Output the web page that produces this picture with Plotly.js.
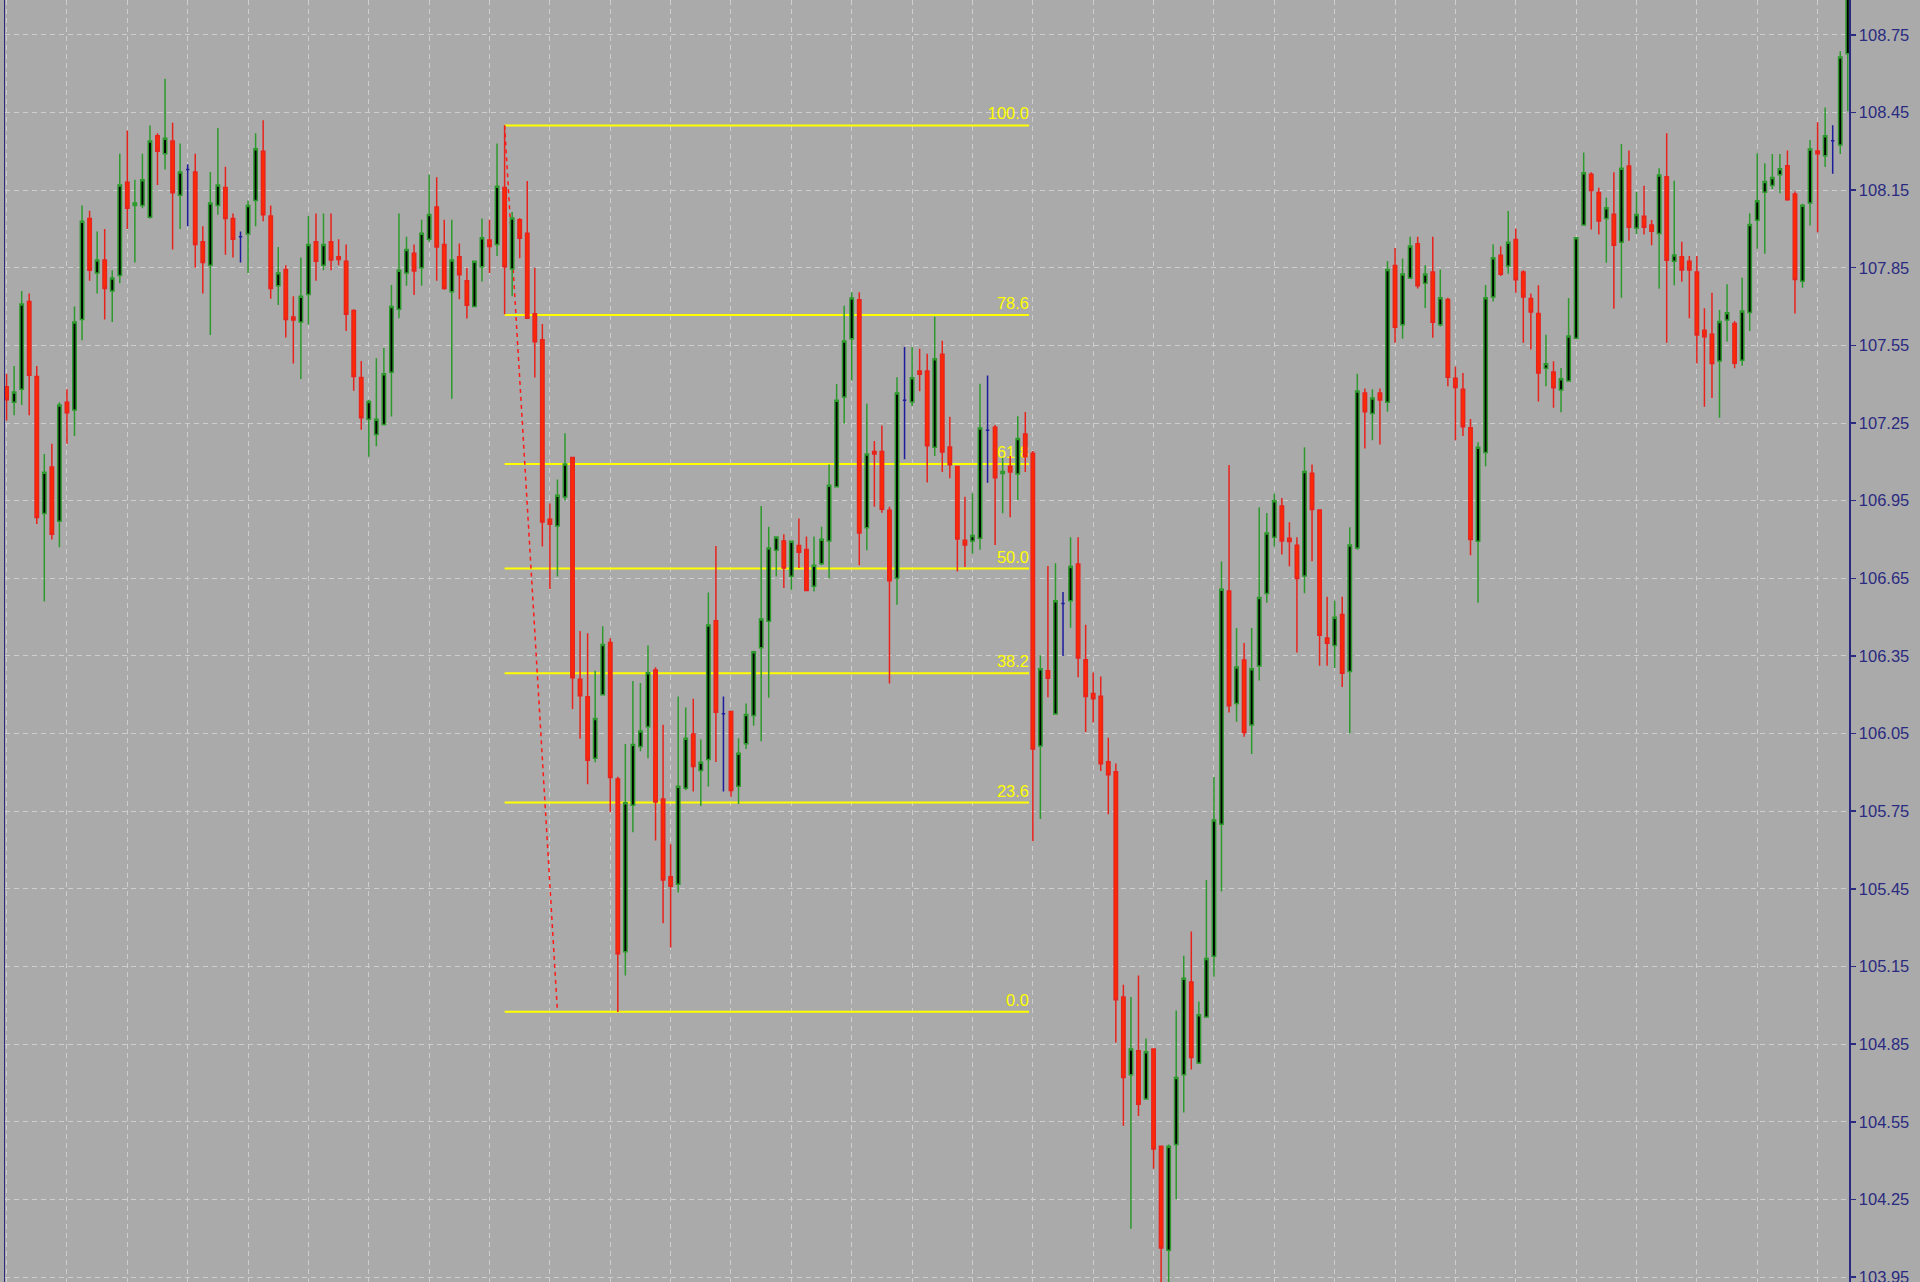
<!DOCTYPE html>
<html><head><meta charset="utf-8">
<script src="https://cdn.plot.ly/plotly-3.0.1.min.js"></script>
<style>html,body{margin:0;padding:0;background:#AAAAAA;overflow:hidden}#chart{width:1920px;height:1282px}</style>
</head><body><div id="chart"></div>
<script>
const openPrices = [
107.39,107.33,107.38,107.72,107.43,106.90,107.08,106.87,107.33,107.30,
107.65,108.04,107.83,107.88,107.76,107.82,108.18,108.09,108.09,108.045,
108.36,108.29,108.34,108.13,108.23,108.22,107.95,107.86,108.09,108.16,
108.04,107.97,107.98,108.11,108.30,108.05,107.78,107.843,107.66,107.64,
107.747,107.95,107.86,107.95,107.892,107.875,107.685,107.426,107.265,107.206,
107.244,107.446,107.69,107.83,107.906,107.85,107.96,108.085,107.94,107.757,
107.892,107.80,107.70,107.854,107.957,107.94,108.16,107.845,108.035,107.983,
107.672,107.572,106.878,106.852,106.964,107.117,106.26,106.192,105.955,106.20,
106.402,105.875,105.207,105.773,106.0,106.076,106.296,105.797,105.497,105.468,
105.839,106.048,105.907,105.95,106.486,106.127,106.135,105.847,106.011,106.12,
106.382,106.484,106.758,106.794,106.658,106.777,106.761,106.619,106.706,106.794,
107.004,107.351,107.576,107.726,106.845,107.140,107.14,106.913,106.65,107.338,
107.331,107.451,107.451,107.156,107.516,107.157,107.082,106.797,106.794,106.805,
107.222,107.234,107.055,107.083,107.053,107.208,107.133,106.002,106.293,106.126,
106.553,106.563,106.705,106.335,106.205,106.194,105.941,105.903,105.032,104.732,
104.825,104.638,104.831,104.456,104.054,104.462,104.732,105.09,104.777,104.955,
105.19,105.70,106.601,106.166,106.334,106.083,106.311,106.591,106.809,106.929,
106.805,106.778,106.659,107.056,106.914,106.419,106.39,106.51,106.29,106.767,
107.366,107.287,107.366,107.33,107.859,107.63,107.81,107.943,107.79,107.834,
107.63,107.727,107.423,107.38,107.232,106.793,107.136,107.737,107.898,107.857,
107.959,107.834,107.731,107.673,107.462,107.447,107.378,107.412,107.578,108.015,
108.211,108.141,108.04,108.057,107.948,108.243,108.004,108.049,108.015,107.982,
108.202,107.875,107.892,107.875,107.834,107.608,107.593,107.49,107.648,107.635,
107.493,107.677,108.033,108.142,108.168,108.209,108.244,108.135,107.798,108.1,
108.301,108.283,108.341,108.324,108.677];
const highPrices = [
107.44,107.47,107.76,107.75,107.47,107.13,107.17,107.33,107.38,107.70,
108.09,108.07,107.99,108.00,107.84,108.29,108.38,108.19,108.29,108.40,
108.37,108.58,108.41,108.33,108.25,108.29,108.01,108.22,108.39,108.24,
108.06,107.99,108.11,108.37,108.42,108.09,107.93,107.86,107.74,107.89,
108.05,108.06,108.06,108.06,107.96,107.94,107.69,107.49,107.34,107.50,
107.54,107.783,108.06,107.97,107.94,108.035,108.21,108.20,108.035,108.035,
107.944,107.85,107.875,108.04,108.035,108.33,108.40,108.065,108.042,108.185,
107.849,107.633,106.939,107.032,107.21,107.117,106.446,106.438,106.293,106.465,
106.418,105.883,106.01,106.253,106.245,106.39,106.306,106.084,105.622,106.193,
106.151,106.185,106.027,106.595,106.775,106.193,106.135,106.032,106.166,106.37,
106.929,106.849,106.81,106.82,106.793,106.881,106.812,106.812,106.849,107.09,
107.401,107.703,107.755,107.755,107.324,107.181,107.24,106.926,107.427,107.544,
107.544,107.537,107.518,107.661,107.568,107.274,107.082,106.965,106.979,107.402,
107.434,107.242,107.116,107.123,107.276,107.293,107.142,106.353,106.698,106.708,
106.597,106.809,106.809,106.471,106.286,106.271,106.034,105.934,105.08,105.032,
105.115,104.872,104.831,104.456,104.462,104.98,105.192,105.285,105.015,105.484,
105.882,106.715,107.088,106.458,106.40,106.458,106.925,106.902,106.977,106.96,
106.867,106.809,107.156,107.09,106.916,106.579,106.563,106.579,106.847,107.44,
107.383,107.38,107.383,107.876,107.926,107.886,107.97,107.97,107.86,107.97,
107.843,107.734,107.467,107.443,107.266,107.176,107.783,107.941,107.933,108.069,
108.002,107.84,107.75,107.782,107.591,107.489,107.463,107.733,107.966,108.295,
108.219,108.159,108.12,108.219,108.328,108.303,108.144,108.167,108.034,108.234,
108.37,108.186,107.95,107.895,107.895,107.693,107.753,107.687,107.786,107.644,
107.811,108.061,108.292,108.254,108.289,108.289,108.303,108.145,108.097,108.344,
108.412,108.469,108.401,108.686,109.05];
const lowPrices = [
107.26,107.28,107.32,107.28,106.86,106.56,106.80,106.77,107.17,107.20,
107.57,107.80,107.75,107.65,107.64,107.79,108.00,107.87,108.08,108.04,
108.17,108.23,107.92,108.00,108.01,107.85,107.75,107.59,108.055,107.90,
107.89,107.87,107.83,108.01,108.03,107.73,107.706,107.58,107.48,107.42,
107.63,107.80,107.84,107.84,107.86,107.606,107.375,107.224,107.12,107.16,
107.24,107.275,107.655,107.78,107.745,107.78,107.95,107.80,107.765,107.344,
107.728,107.654,107.70,107.797,107.83,107.895,107.67,107.74,107.887,107.655,
107.426,106.773,106.609,106.657,106.95,106.145,106.03,105.854,105.939,106.20,
105.746,104.974,105.115,105.669,105.982,105.955,105.637,105.317,105.223,105.436,
105.831,105.826,105.77,105.846,105.94,105.826,105.806,105.778,105.99,106.08,
106.02,106.188,106.657,106.613,106.606,106.69,106.603,106.599,106.70,106.65,
107.004,107.247,107.414,106.70,106.758,106.926,106.903,106.244,106.548,107.11,
107.315,107.373,107.02,107.123,107.061,107.037,106.676,106.694,106.745,106.76,
107.019,106.779,106.901,106.886,106.953,107.061,105.634,105.72,106.19,106.126,
106.35,106.459,106.268,106.056,106.093,105.905,105.738,104.856,104.535,104.137,
104.572,104.638,104.369,103.90,103.93,104.25,104.586,104.752,104.773,104.955,
105.11,105.44,106.131,106.096,106.038,105.971,106.255,106.556,106.773,106.742,
106.697,106.363,106.592,106.716,106.312,106.312,106.303,106.23,106.05,106.76,
107.152,107.183,107.167,107.294,107.56,107.576,107.806,107.77,107.694,107.579,
107.623,107.392,107.183,107.20,106.739,106.556,107.083,107.72,107.818,107.827,
107.753,107.56,107.534,107.333,107.392,107.309,107.292,107.412,107.578,108.015,
107.998,107.978,107.869,107.692,107.734,107.954,107.98,107.978,107.937,107.769,
107.56,107.782,107.796,107.655,107.48,107.313,107.347,107.27,107.565,107.462,
107.471,107.606,107.923,107.904,108.154,108.138,108.109,107.673,107.773,108.013,
107.987,108.239,108.213,108.289,108.455];
const closePrices = [
107.34,107.37,107.71,107.435,106.885,107.06,106.82,107.32,107.29,107.64,
108.03,107.84,107.88,107.77,107.81,108.17,108.08,108.10,108.19,108.34,
108.30,108.35,108.14,108.22,108.23,107.94,107.87,108.10,108.17,108.04,
107.96,107.97,108.09,108.31,108.055,107.77,107.83,107.65,107.648,107.74,
107.94,107.875,107.94,107.88,107.882,107.67,107.43,107.27,107.333,107.265,
107.44,107.70,107.84,107.92,107.837,107.983,108.056,107.93,107.77,107.88,
107.823,107.705,107.875,107.966,107.932,108.165,107.854,108.042,107.964,107.655,
107.564,106.868,106.859,106.971,107.092,106.266,106.196,105.947,106.108,106.394,
105.88,105.199,105.783,106.008,106.06,106.285,105.786,105.484,105.46,105.847,
106.032,105.923,105.939,106.47,106.132,106.127,105.83,105.974,106.124,106.366,
106.493,106.767,106.81,106.69,106.793,106.751,106.603,106.70,106.801,107.01,
107.338,107.567,107.733,106.825,107.13,107.13,106.917,106.641,107.366,107.338,
107.425,107.438,107.162,107.498,107.138,107.089,106.802,106.779,106.815,107.231,
107.222,107.039,107.063,107.061,107.19,107.12,105.99,106.301,106.264,106.563,
106.553,106.696,106.342,106.193,106.185,105.933,105.891,105.022,104.721,104.831,
104.618,104.821,104.445,104.062,104.456,104.721,105.105,104.798,104.964,105.181,
105.716,106.608,106.158,106.307,106.054,106.301,106.576,106.825,106.95,106.794,
106.792,106.649,107.063,106.916,106.43,106.399,106.50,106.283,106.779,107.374,
107.294,107.347,107.339,107.843,107.62,107.826,107.934,107.78,107.826,107.639,
107.734,107.427,107.387,107.236,106.80,107.156,107.734,107.889,107.825,107.948,
107.804,107.737,107.679,107.443,107.479,107.386,107.421,107.586,107.966,108.217,
108.148,108.031,108.082,107.937,108.234,108.006,108.056,108.006,107.991,108.208,
107.879,107.899,107.841,107.841,107.59,107.583,107.48,107.642,107.676,107.481,
107.683,108.017,108.109,108.183,108.199,108.232,108.113,107.805,108.091,108.309,
108.29,108.36,108.341,108.664,109.0];

// Fibonacci retracement drawn on the chart
const fibLevels = [0, 23.6, 38.2, 50.0, 61.8, 78.6, 100.0];
const fibLabels = ['0.0', '23.6', '38.2', '50.0', '61.8', '78.6', '100.0'];
const fibHigh = 108.40;
const fibLow = 104.975;
const fibStartBar = 66;
const fibEndBar = 135.5;
const trendStartBar = 66;
const trendEndBar = 73;

// y axis ticks
const yTickStart = 103.95;
const yTickStep = 0.30;
const yRange = [103.931, 108.8845];
const xRange = [-0.21, 244.16];
const barsPerGrid = 8;

const UP = '#2E9A2E', DOWN_LINE = '#E8231C', DOWN_FILL = '#FF2A00', DOJI = '#1C1C9C', NAVY = '#2A2A80';

const idx = openPrices.map((_, i) => i);
const reg = idx.filter(i => openPrices[i] !== closePrices[i]);
const doj = idx.filter(i => openPrices[i] === closePrices[i]);
const pick = (arr, ids) => ids.map(i => arr[i]);

const candleMain = {
  type: 'candlestick', x: reg,
  open: pick(openPrices, reg), high: pick(highPrices, reg),
  low: pick(lowPrices, reg), close: pick(closePrices, reg),
  increasing: {line: {color: UP, width: 1.5}, fillcolor: '#000000'},
  decreasing: {line: {color: DOWN_LINE, width: 1.5}, fillcolor: DOWN_FILL},
  whiskerwidth: 0, hoverinfo: 'skip', showlegend: false
};
const candleDoji = {
  type: 'candlestick', x: doj,
  open: pick(openPrices, doj), high: pick(highPrices, doj),
  low: pick(lowPrices, doj), close: pick(closePrices, doj),
  increasing: {line: {color: DOJI, width: 1.5}, fillcolor: DOJI},
  decreasing: {line: {color: DOJI, width: 1.5}, fillcolor: DOJI},
  whiskerwidth: 0, hoverinfo: 'skip', showlegend: false
};

const shapes = fibLevels.map((lv, k) => ({
  type: 'line', xref: 'x', yref: 'y', layer: 'between',
  x0: fibStartBar, x1: fibEndBar,
  y0: fibLow + (fibHigh - fibLow) * lv / 100,
  y1: fibLow + (fibHigh - fibLow) * lv / 100,
  line: {color: '#FFFF00', width: 2},
  label: {text: fibLabels[k], textposition: 'end', xanchor: 'right', yanchor: 'bottom',
          padding: 4.5, font: {color: '#FFFF00', size: 16.5, family: 'Liberation Sans, Arial, sans-serif'}}
}));
shapes.push({
  type: 'line', xref: 'x', yref: 'y', layer: 'between',
  x0: trendStartBar, y0: fibHigh, x1: trendEndBar, y1: fibLow,
  line: {color: '#FF1A1A', width: 1.5, dash: '4px,4px'}
});

const layout = {
  width: 1920, height: 1282,
  margin: {l: 5, r: 71, t: 0, b: 0, pad: 0},
  paper_bgcolor: '#AAAAAA', plot_bgcolor: '#AAAAAA',
  showlegend: false, boxgap: 0.55, boxgroupgap: 0,
  xaxis: {
    range: xRange, rangeslider: {visible: false},
    tick0: 0, dtick: barsPerGrid, showgrid: true, gridcolor: '#CECECE', gridwidth: 1, griddash: '5px,4px',
    showticklabels: false, ticks: '', zeroline: false, showline: false, fixedrange: true
  },
  yaxis: {
    side: 'right', range: yRange, tick0: yTickStart, dtick: yTickStep, tickformat: '.2f',
    showgrid: true, gridcolor: '#CECECE', gridwidth: 1, griddash: '5px,4px',
    ticks: 'outside', ticklen: 5, tickwidth: 1.5, tickcolor: NAVY,
    showline: true, linecolor: NAVY, linewidth: 1.5, mirror: true,
    tickfont: {family: 'Liberation Sans, Arial, sans-serif', size: 16.5, color: NAVY},
    zeroline: false, ticklabeloverflow: 'allow', fixedrange: true
  },
  shapes: shapes
};

Plotly.newPlot('chart', [candleMain, candleDoji], layout, {displayModeBar: false, staticPlot: true});
</script>
</body></html>
